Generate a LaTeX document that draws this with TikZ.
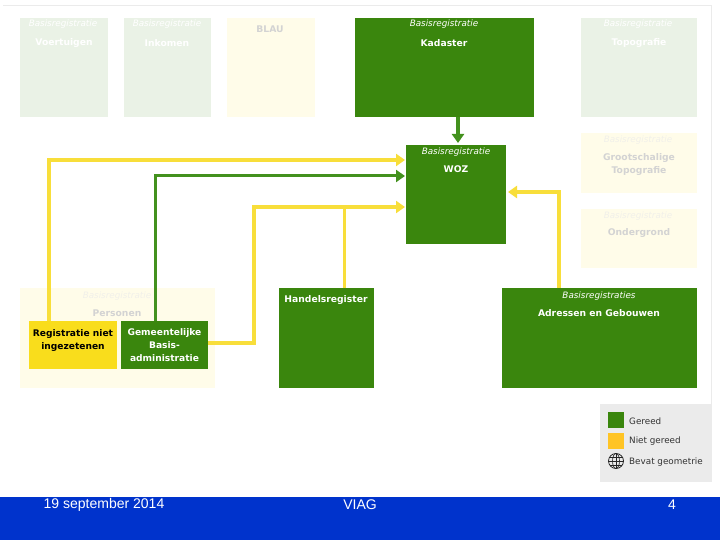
\documentclass[tikz,border=0pt]{standalone}
\usepackage{fontspec}
\setmainfont{DejaVu Sans}
\newfontfamily\footfont{Liberation Sans}
\usetikzlibrary{arrows.meta,positioning,calc}
\definecolor{viagGreen}{HTML}{3A860D}
\definecolor{viagLine}{HTML}{43911E}
\definecolor{viagYellow}{HTML}{F9DD1C}
\definecolor{viagLineY}{HTML}{F8DE3A}
\definecolor{viagOrange}{HTML}{FFC425}
\definecolor{viagPaleG}{HTML}{EAF2E6}
\definecolor{viagPaleY}{HTML}{FFFCE9}
\definecolor{viagGrey}{HTML}{EBEBEB}
\definecolor{viagBlue}{HTML}{0033CC}
\tikzset{
  bx/.style={anchor=north west, inner sep=0pt, outer sep=0pt},
  done/.style={bx, fill=viagGreen},
  paleg/.style={bx, fill=viagPaleG},
  paley/.style={bx, fill=viagPaleY},
  captxt/.style={font=\fontsize{8.8}{10}\selectfont\itshape, text=white, inner sep=0pt},
  tit/.style={font=\fontsize{9.2}{13}\selectfont\bfseries, text=white, inner sep=0pt, align=center},
  captxtf/.style={captxt, text=viagGrey!70!viagPaleY},
  titf/.style={tit, text=viagGrey!90!black},
  inbox/.style={bx, font=\fontsize{9.1}{12.8}\selectfont\bfseries, align=center},
  geel/.style={-{Triangle[length=9pt,width=12pt]}, line width=3.2pt, color=viagLineY},
  groen/.style={-{Triangle[length=9pt,width=12pt]}, line width=3pt, color=viagLine},
  leg/.style={anchor=west, inner sep=0pt, font=\fontsize{8.8}{10}\selectfont, text=black!80},
  foot/.style={font=\fontsize{14}{16}\footfont, text=white, inner sep=0pt},
}
\begin{document}
\begin{tikzpicture}[x=1pt, y=-1pt]
  \useasboundingbox (0,0) rectangle (720,540);
  \fill[white] (0,0) rectangle (720,540);
  \draw[viagGrey, line width=0.8pt] (3,5) -- (711,5) -- (711,404);
  % pale registers
  \node[paleg, minimum width=88, minimum height=99] (voertuigen) at (20,18) {};
  \node[paleg, minimum width=87, minimum height=99] (inkomen) at (124,18) {};
  \node[paley, minimum width=88, minimum height=99] (blau) at (227,18) {};
  \node[paleg, minimum width=116, minimum height=99] (topografie) at (581,18) {};
  \node[paley, minimum width=116, minimum height=60] (groot) at (581,133) {};
  \node[paley, minimum width=116, minimum height=59] (ondergrond) at (581,209) {};
  \node[paley, minimum width=195, minimum height=100] (personen) at (20,288) {};
  \node[captxt] (voertuigenc) at (63,24) {Basisregistratie};
  \node[tit] (voertuigent) at (64,43) {Voertuigen};
  \node[captxt] (inkomenc) at (167,24) {Basisregistratie};
  \node[tit] (inkoment) at (167,43) {Inkomen};
  \node[titf] (blaut) at (270,29) {BLAU};
  \node[captxt] (topografiec) at (638,24) {Basisregistratie};
  \node[tit] (topografiet) at (639,43) {Topografie};
  \node[captxtf] (grootc) at (638,140) {Basisregistratie};
  \node[titf] (groott) at (639,164.5) {Grootschalige\\Topografie};
  \node[captxtf] (ondergrondc) at (638,216) {Basisregistratie};
  \node[titf] (ondergrondt) at (639,233) {Ondergrond};
  \node[captxtf] (personenc) at (117,296) {Basisregistratie};
  \node[titf] (personent) at (117,313) {Personen};
  % finished registers
  \node[done, minimum width=179, minimum height=99] (kadaster) at (355,18) {};
  \node[done, minimum width=100, minimum height=99] (woz) at (406,145) {};
  \node[done, minimum width=95, minimum height=100] (handel) at (279,288) {};
  \node[done, minimum width=195, minimum height=100] (adressen) at (502,288) {};
  \node[inbox, fill=viagYellow, minimum width=88, minimum height=48] (rni) at (29,321) {Registratie niet\\ingezetenen\\[-2pt]};
  \node[inbox, fill=viagGreen, text=white, minimum width=87, minimum height=48] (gba) at (121,321) {Gemeentelijke\\Basis-\\administratie};
  \node[captxt] (kadasterc) at (444,24) {Basisregistratie};
  \node[tit] (kadastert) at (444,43) {Kadaster};
  \node[captxt] (wozc) at (456,152) {Basisregistratie};
  \node[tit] (wozt) at (456,169) {WOZ};
  \node[tit] (handelt) at (326,300) {Handelsregister};
  \node[captxt] (adressenc) at (599,296) {Basisregistraties};
  \node[tit] (adressent) at (599,313) {Adressen en Gebouwen};
  % connectors
  \coordinate (rnibend) at (49,160);
  \coordinate (gbabend) at (155,176);
  \coordinate (gbaout) at (254,343);
  \coordinate (hrbend) at (254,207);
  \coordinate (hrjoin) at (344,207);
  \coordinate (agbend) at (559,192);
  \coordinate (kadarrow) at (458,117);
  \draw[geel] (rni.north -| rnibend) -- (rnibend) -- ($(woz.west |- rnibend)+(-1,0)$);
  \draw[groen] (gba.north -| gbabend) -- (gbabend) -- ($(woz.west |- gbabend)+(-1,0)$);
  \draw[geel] (gba.east |- gbaout) -- (gbaout) -- (hrbend) -- ($(woz.west |- hrbend)+(-1,0)$);
  \draw[color=viagLineY, line width=3pt] (handel.north -| hrjoin) -- (hrjoin);
  \draw[geel] (adressen.north -| agbend) -- (agbend) -- ($(woz.east |- agbend)+(2,0)$);
  \draw[groen, line width=4pt] (kadaster.south -| kadarrow) -- ($(woz.north -| kadarrow)+(0,-2)$);
  % legend
  \node[bx, fill=viagGrey, minimum width=112, minimum height=78] (legenda) at (600,404) {};
  \node[bx, fill=viagGreen, minimum size=16] (leggreen) at (608,412) {};
  \node[bx, fill=viagOrange, minimum size=16] (legorange) at (608,433) {};
  \node[circle, draw=black!85, fill=none, inner sep=0pt, minimum size=15, line width=0.8pt] (globe) at (616,461) {};
  \draw[black!85, line width=0.6pt] (globe.center) ellipse (3.5 and 7.5);
  \draw[black!85, line width=0.6pt] (globe.north) -- (globe.south) (globe.west) -- (globe.east);
  \foreach \dy in {-4,4} \draw[black!85, line width=0.6pt] ($(globe.center)+(-6.2,\dy)$) -- ($(globe.center)+(6.2,\dy)$);
  \node[leg] (leggreent) at (629,421) {Gereed};
  \node[leg] (legoranget) at (629,441) {Niet gereed};
  \node[leg] (globet) at (629,462) {Bevat geometrie};
  % footer
  \node[bx, fill=viagBlue, minimum width=720, minimum height=43] (footer) at (0,497) {};
  \node[foot] (datum) at (104,504.5) {19 september 2014};
  \node[foot] (viag) at (360,504.5) {VIAG};
  \node[foot] (pagina) at (672,504.5) {4};
\end{tikzpicture}
\end{document}
